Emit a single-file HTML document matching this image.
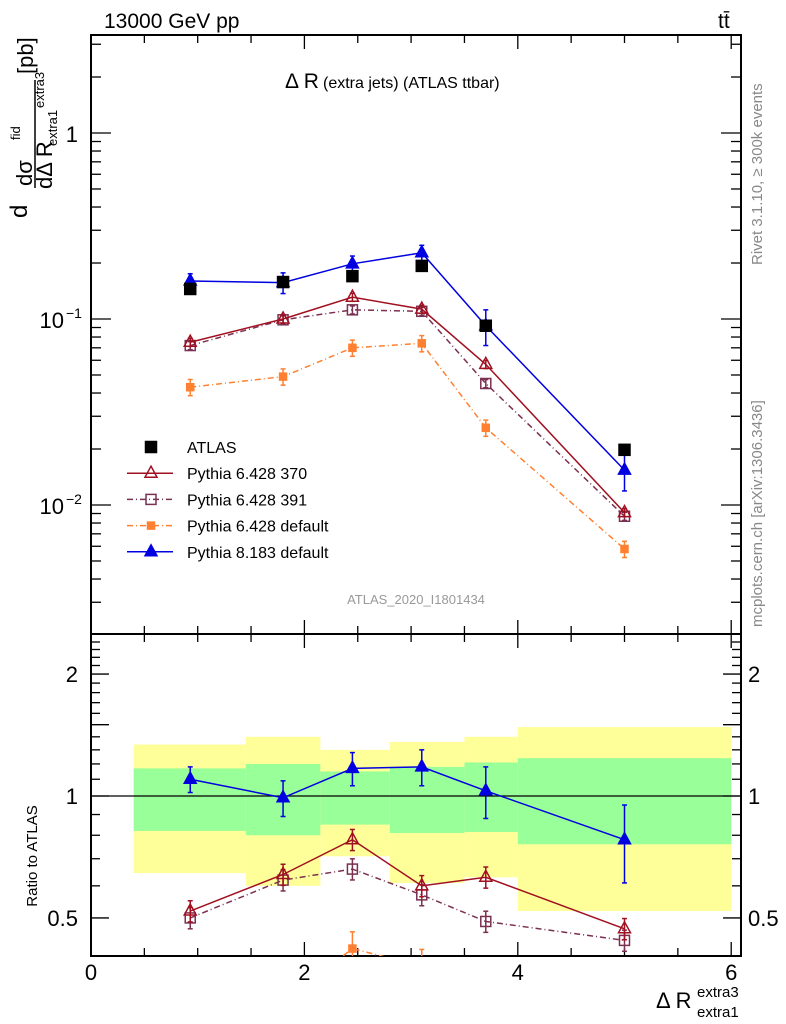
<!DOCTYPE html>
<html><head><meta charset="utf-8"><style>
body{margin:0;background:#fff;}
svg{display:block;font-family:"Liberation Sans",sans-serif;}
</style></head><body>
<svg id="c" width="786" height="1024" viewBox="0 0 786 1024" xmlns="http://www.w3.org/2000/svg"></svg>
<script>
const xs=[0.93,1.8,2.45,3.1,3.7,5.0];
const binEdges=[0.4,1.45,2.15,2.8,3.5,4.0,6.0];
const atlas=[0.145,0.158,0.17,0.193,0.092,0.0198];
const p8=[0.16,0.157,0.198,0.227,0.092,0.0154];
const p8err=[0.015,0.02,0.02,0.022,0.02,0.0035];
const p370=[0.075,0.1,0.131,0.113,0.057,0.0091];
const p391=[0.072,0.099,0.112,0.110,0.045,0.0087];
const pdef=[0.043,0.049,0.070,0.074,0.026,0.0058];
const r8=[1.10,0.99,1.17,1.18,1.03,0.78];
const r8err=[0.08,0.1,0.11,0.12,0.15,0.17];
const r370=[0.52,0.64,0.78,0.60,0.63,0.47];
const r391=[0.50,0.62,0.66,0.57,0.49,0.44];
const rdef=[0.30,0.31,0.42,0.38,0.28,0.29];
const greenHi=[1.17,1.20,1.15,1.18,1.21,1.24];
const greenLo=[0.82,0.80,0.85,0.81,0.815,0.76];
const yelHi=[1.34,1.40,1.30,1.36,1.40,1.48];
const yelLo=[0.645,0.60,0.71,0.61,0.63,0.52];
const xTicks=[0,2,4,6];

const L=91,R=741,T=35,MB=634,RB=956;
const NS="http://www.w3.org/2000/svg";
const svg=document.getElementById('c');
const X=v=>L+v*106.7;
const Y=v=>133-Math.log10(v)*186;
const YR=v=>796-Math.log10(v)*405;
function el(t,a,p){const e=document.createElementNS(NS,t);for(const k in a)e.setAttribute(k,a[k]);(p||svg).appendChild(e);return e;}
function txt(s,x,y,sz,extra){const e=el('text',Object.assign({x:x,y:y,'font-size':sz},extra||{}));e.textContent=s;return e;}

const bands=el('g',{});


for(let i=0;i<6;i++){
  const x1=X(binEdges[i]),x2=X(binEdges[i+1]);
  el('rect',{x:x1,y:YR(yelHi[i]),width:x2-x1,height:YR(yelLo[i])-YR(yelHi[i]),fill:'#ffff99'},bands);
  el('rect',{x:x1,y:YR(greenHi[i]),width:x2-x1,height:YR(greenLo[i])-YR(greenHi[i]),fill:'#99ff99'},bands);
}
el('line',{x1:L,x2:R,y1:YR(1),y2:YR(1),stroke:'#000','stroke-width':1.3});

el('rect',{x:L,y:T,width:R-L,height:MB-T,fill:'none',stroke:'#000','stroke-width':2});
el('rect',{x:L,y:MB,width:R-L,height:RB-MB,fill:'none',stroke:'#000','stroke-width':2});

for(let v=0;v<=6.05;v+=0.5){
  const big=Math.abs(v-Math.round(v/2)*2)<1e-6, h=big?14:8;
  [[T,1],[MB,-1],[MB,1],[RB,-1]].forEach(([y,d])=>el('line',{x1:X(v),x2:X(v),y1:y,y2:y+d*h,stroke:'#000','stroke-width':1.3}));
}
xTicks.forEach(v=>{const t=txt(String(v),X(v),980,22,{'text-anchor':'middle'});

});

for(let d=-3;d<=0;d++){for(let m=1;m<10;m++){const v=m*Math.pow(10,d);const y=Y(v);if(y<T||y>MB)continue;const h=m==1?20:10;
 el('line',{x1:L,x2:L+h,y1:y,y2:y,stroke:'#000','stroke-width':1.3});el('line',{x1:R,x2:R-h,y1:y,y2:y,stroke:'#000','stroke-width':1.3});}}
txt('1',78,142,22,{'text-anchor':'end'});
txt('10',64,328,22,{'text-anchor':'end'});txt('−1',66,318,14);
txt('10',64,514,22,{'text-anchor':'end'});txt('−2',66,504,14);
for(let v=0.4;v<=2.5;v+=0.1){const y=YR(v);if(y<MB||y>RB)continue;const big=[0.5,1,2,1.5].some(b=>Math.abs(b-v)<1e-6);const h=big?18:9;
 el('line',{x1:L,x2:L+h,y1:y,y2:y,stroke:'#000','stroke-width':1.3});el('line',{x1:R,x2:R-h,y1:y,y2:y,stroke:'#000','stroke-width':1.3});}
[['2',2],['1',1],['0.5',0.5]].forEach(([s,v])=>{txt(s,78,YR(v)+8,22,{'text-anchor':'end'});txt(s,748,YR(v)+8,22);});

const defs=el('defs',{});
const cm=el('clipPath',{id:'cm'},defs);el('rect',{x:L,y:T,width:R-L,height:MB-T},cm);
const cr=el('clipPath',{id:'cr'},defs);el('rect',{x:L,y:MB,width:R-L,height:RB-MB},cr);

function series(name,vals,ys,color,dash,marker,errs,clip){
  const g=el('g',{'clip-path':'url(#'+clip+')'});
  
  
  if(dash!==null){el('polyline',{points:vals.map((v,i)=>X(xs[i])+','+ys(v)).join(' '),fill:'none',stroke:color,'stroke-width':1.5,'stroke-dasharray':dash},g);}
  vals.forEach((v,i)=>{const x=X(xs[i]),y=ys(v);
    if(errs){const y1=ys(v+errs[i]),y2=ys(Math.max(v-errs[i],1e-4));el('line',{x1:x,x2:x,y1:y1,y2:y2,stroke:color,'stroke-width':1.5},g);
      el('line',{x1:x-2.5,x2:x+2.5,y1:y1,y2:y1,stroke:color,'stroke-width':1.5},g);el('line',{x1:x-2.5,x2:x+2.5,y1:y2,y2:y2,stroke:color,'stroke-width':1.5},g);}
    marker(x,y,g);});
}
const mTri=(c,f)=>(x,y,g)=>el('polygon',{points:`${x},${y-7} ${x-6},${y+4} ${x+6},${y+4}`,fill:f?c:'#fff','fill-opacity':f?1:0,stroke:c,'stroke-width':1.5},g);
const mSq=(c,f,s)=>(x,y,g)=>el('rect',{x:x-s,y:y-s,width:2*s,height:2*s,fill:f?c:'none',stroke:c,'stroke-width':1.5},g);
const relE=(a,f)=>a.map(v=>v*f);

series('series-pythia6-default',pdef,Y,'#ff8030','6,3,1,3',mSq('#ff8030',true,3.5),relE(pdef,0.1),'cm');
series('series-pythia6-391',p391,Y,'#7a3050','6,3,1,3',mSq('#7a3050',false,5),relE(p391,0.05),'cm');
series('series-pythia6-370',p370,Y,'#a01020','',mTri('#a01020',false),relE(p370,0.05),'cm');
series('series-pythia8',p8,Y,'#0000e0','',mTri('#0000e0',true),p8err,'cm');
series('series-atlas',atlas,Y,'#000',null,mSq('#000',true,5.5),null,'cm');

series('ratio-pythia6-default',rdef,YR,'#ff8030','6,3,1,3',mSq('#ff8030',true,3.5),relE(rdef,0.1),'cr');
series('ratio-pythia6-391',r391,YR,'#7a3050','6,3,1,3',mSq('#7a3050',false,5),relE(r391,0.06),'cr');
series('ratio-pythia6-370',r370,YR,'#a01020','',mTri('#a01020',false),relE(r370,0.06),'cr');
series('ratio-pythia8',r8,YR,'#0000e0','',mTri('#0000e0',true),r8err,'cr');

const lg=el('g',{});


const items=[['ATLAS','#000',null,mSq('#000',true,5.5)],['Pythia 6.428 370','#a01020','',mTri('#a01020',false)],['Pythia 6.428 391','#7a3050','6,3,1,3',mSq('#7a3050',false,5)],['Pythia 6.428 default','#ff8030','6,3,1,3',mSq('#ff8030',true,3.5)],['Pythia 8.183 default','#0000e0','',mTri('#0000e0',true)]];
items.forEach((it,i)=>{const y=447+i*26.2;
 if(it[2]!==null)el('line',{x1:127,x2:173,y1:y,y2:y,stroke:it[1],'stroke-width':1.5,'stroke-dasharray':it[2]},lg);
 it[3](151,y,lg);
 const t=txt(it[0],187,y+6,16);lg.appendChild(t);});

txt('13000 GeV pp',104,28,21);
txt('tt̄',718,28,21);
txt('Δ R',285,88,21);txt('(extra jets) (ATLAS ttbar)',323,88,16);
txt('ATLAS_2020_I1801434',416,604,13,{'text-anchor':'middle',fill:'#999'});
txt('Ratio to ATLAS',0,0,15,{transform:'translate(37,856) rotate(-90)','text-anchor':'middle'});
txt('Rivet 3.1.10, ≥ 300k events',0,0,15,{transform:'translate(762,265) rotate(-90)',fill:'#888'});
txt('mcplots.cern.ch [arXiv:1306.3436]',0,0,15,{transform:'translate(762,627) rotate(-90)',fill:'#888'});
txt('Δ R',656,1008,22);txt('extra3',697,997,15);txt('extra1',697,1017,15);
// y-axis title (rotated pieces)
txt('d',0,0,24,{transform:'translate(27,218) rotate(-90)'});
txt('dσ',0,0,22,{transform:'translate(32,186) rotate(-90)'});
txt('fid',0,0,13,{transform:'translate(20,140) rotate(-90)'});
el('line',{x1:35,x2:35,y1:188,y2:80,stroke:'#000','stroke-width':1.5});
txt('dΔ R',0,0,22,{transform:'translate(52,189) rotate(-90)'});
txt('extra1',0,0,13,{transform:'translate(57,146) rotate(-90)'});
txt('extra3',0,0,13,{transform:'translate(44,108) rotate(-90)'});
txt('[pb]',0,0,22,{transform:'translate(33,74) rotate(-90)'});
</script>
</body></html>
